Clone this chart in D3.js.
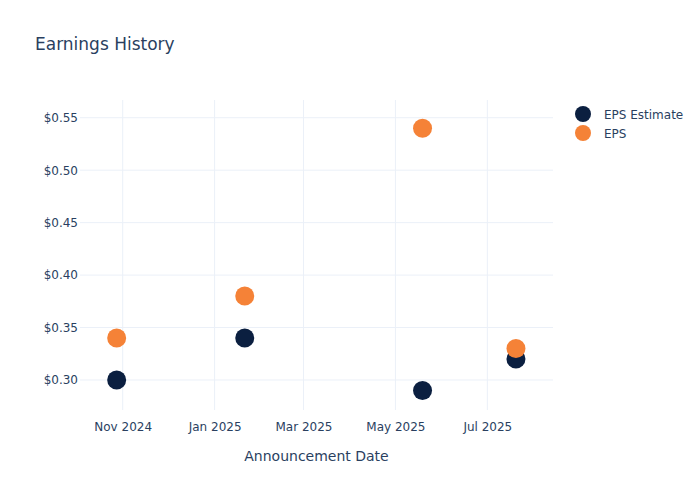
<!DOCTYPE html>
<html>
<head>
<meta charset="utf-8">
<script src="https://cdn.jsdelivr.net/npm/d3@7"></script>
<style>
  html, body { margin: 0; padding: 0; background: #fff; }
  svg { display: block; font-family: "DejaVu Sans", Verdana, sans-serif; }
</style>
</head>
<body>
<svg id="chart" width="700" height="500"></svg>
<script>
const dates = ["2024-10-28", "2025-01-21", "2025-05-19", "2025-07-20"];
const epsEstimate = [0.30, 0.34, 0.29, 0.32];
const epsActual = [0.34, 0.38, 0.54, 0.33];
const seriesNames = ["EPS Estimate", "EPS"];
const seriesColors = ["#0b1f40", "#f58237"];
const yTicks = [0.30, 0.35, 0.40, 0.45, 0.50, 0.55];
const xTickDates = ["2024-11-01", "2025-01-01", "2025-03-01", "2025-05-01", "2025-07-01"];
const xDomain = ["2024-10-03T16:00", "2025-08-13T14:00"];
const yDomain = [0.2714, 0.5669];

(function () {
const parse = d3.utcParse("%Y-%m-%d");
const parseT = d3.utcParse("%Y-%m-%dT%H:%M");

const svg = d3.select("#chart");
const textColor = "#2a3f5f";
const gridColor = "#ebf0f8";
const pLeft = 80, pRight = 553, pTop = 100, pBottom = 410;

const x = d3.scaleUtc().domain(xDomain.map(parseT)).range([pLeft, pRight]);
const y = d3.scaleLinear().domain(yDomain).range([pBottom, pTop]);

// gridlines
svg.append("g").selectAll("line").data(xTickDates).join("line")
  .attr("x1", d => x(parse(d))).attr("x2", d => x(parse(d)))
  .attr("y1", pTop).attr("y2", pBottom)
  .attr("stroke", gridColor).attr("stroke-width", 1);
svg.append("g").selectAll("line").data(yTicks).join("line")
  .attr("x1", pLeft).attr("x2", pRight)
  .attr("y1", d => y(d)).attr("y2", d => y(d))
  .attr("stroke", gridColor).attr("stroke-width", 1);

// axes via d3 axis
const xAxis = d3.axisBottom(x)
  .tickValues(xTickDates.map(parse))
  .tickFormat(d3.utcFormat("%b %Y"))
  .tickSize(0).tickPadding(12);
const gx = svg.append("g").attr("transform", `translate(0,${pBottom})`).call(xAxis);
gx.select(".domain").remove();
gx.selectAll("text").attr("fill", textColor).style("font-size", "12px")
  .style("font-family", "'DejaVu Sans', Verdana, sans-serif");

const yAxis = d3.axisLeft(y)
  .tickValues(yTicks)
  .tickFormat(d => "$" + d3.format(".2f")(d))
  .tickSize(0).tickPadding(2);
const gy = svg.append("g").attr("transform", `translate(${pLeft},0)`).call(yAxis);
gy.select(".domain").remove();
gy.selectAll("text").attr("fill", textColor).style("font-size", "12px")
  .style("font-family", "'DejaVu Sans', Verdana, sans-serif");

// axis title
svg.append("text")
  .attr("x", (pLeft + pRight) / 2).attr("y", 461)
  .attr("text-anchor", "middle")
  .attr("fill", textColor).style("font-size", "14px")
  .text("Announcement Date");

// title
svg.append("text")
  .attr("x", 35).attr("y", 50)
  .attr("fill", textColor).style("font-size", "17px")
  .text("Earnings History");

// points
const series = [epsEstimate, epsActual];
series.forEach((vals, si) => {
  svg.append("g").selectAll("circle").data(vals).join("circle")
    .attr("cx", (d, i) => x(parse(dates[i])))
    .attr("cy", d => y(d))
    .attr("r", 9.5)
    .attr("fill", seriesColors[si]);
});

// legend
const lg = svg.append("g");
seriesNames.forEach((name, i) => {
  const ly = 114 + i * 19;
  lg.append("circle").attr("cx", 583).attr("cy", ly).attr("r", 8).attr("fill", seriesColors[i]);
  lg.append("text").attr("x", 604).attr("y", ly + 4.5)
    .attr("fill", textColor).style("font-size", "12px").text(name);
});
})();
</script>
</body>
</html>
